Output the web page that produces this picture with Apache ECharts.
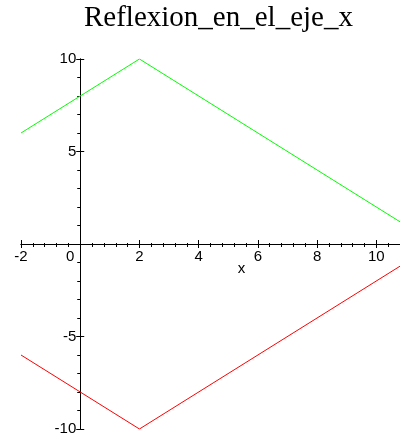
<!DOCTYPE html>
<html>
<head>
<meta charset="utf-8">
<script src="https://cdn.jsdelivr.net/npm/echarts@6/dist/echarts.min.js"></script>
<style>
  html, body { margin: 0; padding: 0; background: #fff; }
  #chart { width: 400px; height: 438px; }
</style>
</head>
<body>
<div id="chart"></div>
<script>
// f(x) = 10 - |x - 2| and its reflection across the x axis
const curveX = [-2, 2, 10.8];
const curveY = [6, 10, 1.2];
const reflectedY = [-6, -10, -1.2];
const titleText = 'Reflexion_en_el_eje_x';
const xName = 'x';
const xRange = [-2, 10.8];
const yRange = [-10, 10];

const green = curveX.map((x, i) => [x, curveY[i]]);
const red = curveX.map((x, i) => [x, reflectedY[i]]);

const black = { color: '#000' };
const labelFont = { color: '#000', fontFamily: 'Liberation Sans, Arial, sans-serif', fontSize: 15 };

// Two axes per direction: one with labels and outward ticks, one with inward ticks,
// so the major ticks cross the axis line. Both are shifted onto the origin.
function xAxis(extra) {
  return Object.assign({
    type: 'value', min: xRange[0], max: xRange[1], interval: 2,
    position: 'bottom', offset: 0,
    splitLine: { show: false },
    axisLine: { show: true, onZero: false, lineStyle: { color: '#000', width: 1 } }
  }, extra);
}
function yAxis(extra) {
  return Object.assign({
    type: 'value', min: yRange[0], max: yRange[1], interval: 5,
    position: 'left', offset: 0,
    splitLine: { show: false },
    axisLine: { show: true, onZero: false, lineStyle: { color: '#000', width: 1 } }
  }, extra);
}

const chart = echarts.init(document.getElementById('chart'), null, { renderer: 'canvas' });
chart.setOption({
  animation: false,
  backgroundColor: '#fff',
  title: {
    text: titleText,
    left: 84, top: 4, padding: 0,
    textStyle: { fontFamily: 'Liberation Serif, Times New Roman, serif', fontWeight: 'normal', fontSize: 29, color: '#000' }
  },
  grid: { left: 21, right: 0, top: 59, bottom: 9, containLabel: false, outerBoundsMode: 'none' },
  xAxis: [
    xAxis({
      name: xName, nameLocation: 'middle', nameGap: 17, nameMoveOverlap: false,
      nameTextStyle: Object.assign({ padding: [0, 0, 0, 62] }, labelFont),
      axisTick: { show: true, inside: false, length: 4, lineStyle: black },
      minorTick: { show: true, splitNumber: 5, length: 3, lineStyle: black },
      axisLabel: Object.assign({
        margin: 5, showMaxLabel: false,
        formatter: v => v === 0 ? '{z|0}' : String(v),
        rich: { z: Object.assign({ padding: [0, 20, 0, 0] }, labelFont) }
      }, labelFont)
    }),
    xAxis({
      axisTick: { show: true, inside: true, length: 4, lineStyle: black },
      minorTick: { show: true, splitNumber: 5, length: 1, lineStyle: black },
      axisLabel: { show: false }
    })
  ],
  yAxis: [
    yAxis({
      axisTick: { show: true, inside: false, length: 4, lineStyle: black },
      minorTick: { show: true, splitNumber: 5, length: 3, lineStyle: black },
      axisLabel: Object.assign({ margin: 4, formatter: v => v === 0 ? '' : String(v) }, labelFont)
    }),
    yAxis({
      axisTick: { show: true, inside: true, length: 4, lineStyle: black },
      minorTick: { show: false },
      axisLabel: { show: false }
    })
  ],
  series: [
    { type: 'line', data: green, xAxisIndex: 0, yAxisIndex: 0, symbol: 'none',
      lineStyle: { color: '#00ff00', width: 1 }, itemStyle: { color: '#00ff00' }, silent: true },
    { type: 'line', data: red, xAxisIndex: 0, yAxisIndex: 0, symbol: 'none',
      lineStyle: { color: '#ff0000', width: 1 }, itemStyle: { color: '#ff0000' }, silent: true }
  ]
});

// Move the axes so they cross at the origin, using the chart's own scales.
const zeroX = chart.convertToPixel({ xAxisIndex: 0 }, 0);
const leftX = chart.convertToPixel({ xAxisIndex: 0 }, xRange[0]);
const zeroY = chart.convertToPixel({ yAxisIndex: 0 }, 0);
const bottomY = chart.convertToPixel({ yAxisIndex: 0 }, yRange[0]);
const xOff = -(bottomY - zeroY);
const yOff = -(zeroX - leftX);
chart.setOption({
  xAxis: [{ offset: xOff }, { offset: xOff }],
  yAxis: [{ offset: yOff }, { offset: yOff }]
});
</script>
</body>
</html>
